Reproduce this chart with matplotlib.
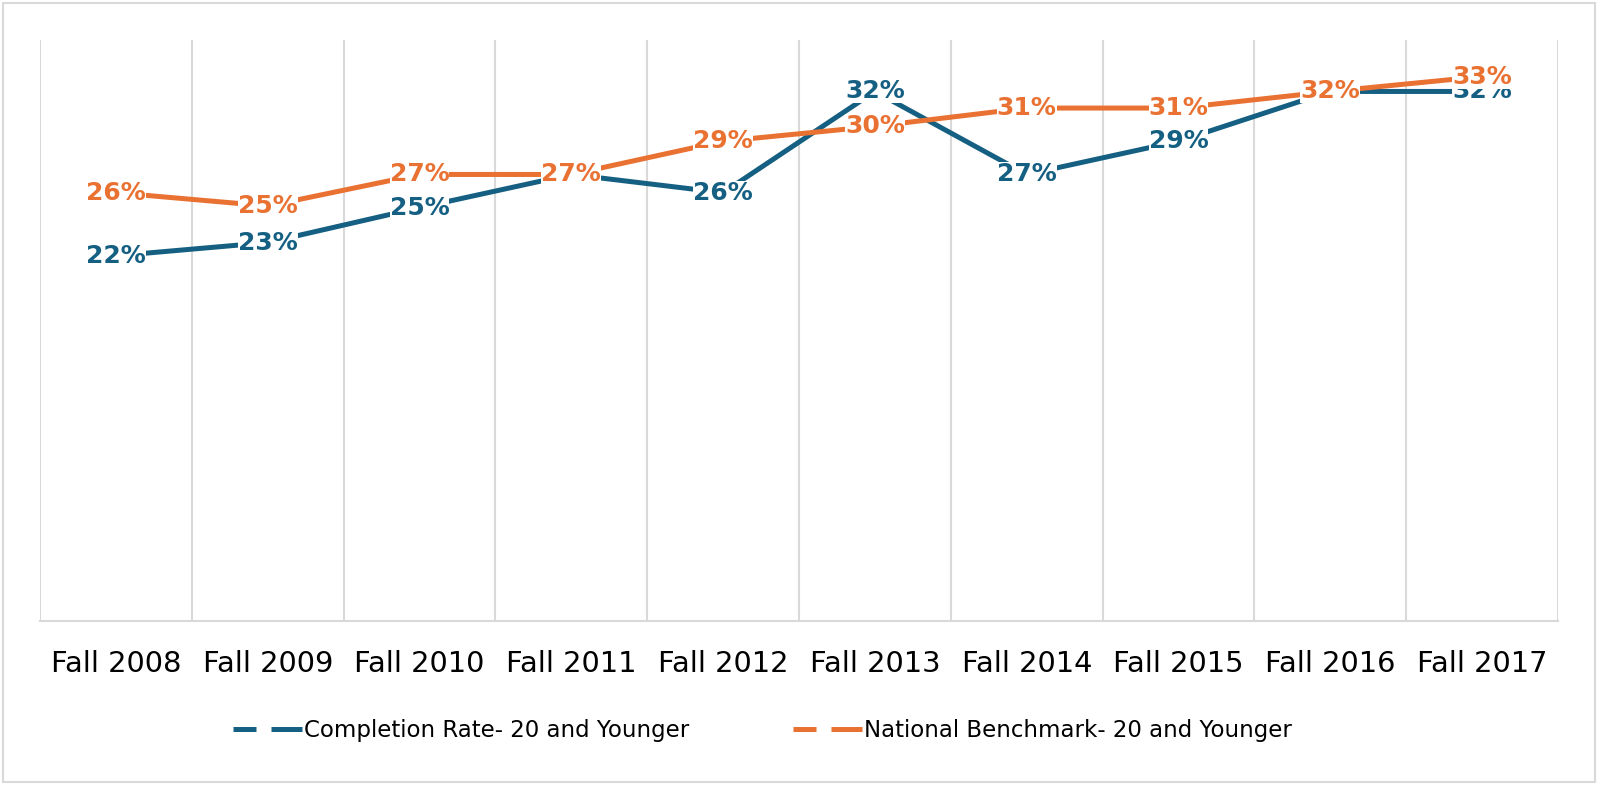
import matplotlib.pyplot as plt
from matplotlib.lines import Line2D
from matplotlib.patches import Rectangle

plt.rcParams['font.family'] = ['DejaVu Sans']

# data
terms = ['Fall 2008', 'Fall 2009', 'Fall 2010', 'Fall 2011', 'Fall 2012',
         'Fall 2013', 'Fall 2014', 'Fall 2015', 'Fall 2016', 'Fall 2017']
completion = [0.220, 0.228, 0.249, 0.269, 0.258, 0.319, 0.269, 0.289, 0.319, 0.319]
benchmark = [0.258, 0.250, 0.269, 0.269, 0.289, 0.298, 0.309, 0.309, 0.319, 0.328]
series_names = ['Completion Rate- 20 and Younger', 'National Benchmark- 20 and Younger']

blue = '#156082'
orange = '#E97132'
grid_c = '#D9D9D9'

W, H = 1600, 786
fig = plt.figure(figsize=(W / 100, H / 100), dpi=100)
# plot area in pixels: left 40, right 1558, top 40, bottom 621
ax = fig.add_axes([40 / W, 1 - 621 / H, (1558 - 40) / W, (621 - 40) / H])

x = list(range(len(terms)))
ax.plot(x, completion, color=blue, lw=3.6, solid_capstyle='butt', zorder=2)
ax.plot(x, benchmark, color=orange, lw=3.6, solid_capstyle='butt', zorder=2)

# data labels centred on the points, white box hides the line
box = dict(boxstyle='square,pad=0.0', fc='white', ec='none')
for xi, c, b in zip(x, completion, benchmark):
    ax.text(xi, c, f'{c*100:.0f}%', color=blue, fontsize=18, fontweight='bold',
            ha='center', va='center', zorder=3, bbox=box)
    ax.text(xi, b, f'{b*100:.0f}%', color=orange, fontsize=18, fontweight='bold',
            ha='center', va='center', zorder=4, bbox=box)

ax.set_xlim(-0.5, len(terms) - 0.5)
ax.set_ylim(0, 0.35)
ax.set_yticks([])
ax.set_xticks(x)
ax.set_xticklabels(terms, fontsize=20.8)
ax.tick_params(axis='x', length=0, pad=21)

# vertical gridlines at category boundaries
for bnd in range(len(terms) + 1):
    ax.axvline(bnd - 0.5, color=grid_c, lw=1.5, zorder=1)
for s in ['top', 'right', 'left']:
    ax.spines[s].set_visible(False)
ax.spines['bottom'].set_color(grid_c)
ax.spines['bottom'].set_linewidth(1.5)

# legend: one entry each, placed where the reference has them
leg_x = [233, 793]
for name, col, lx in zip(series_names, [blue, orange], leg_x):
    h = Line2D([], [], color=col, lw=3.6, dashes=(4.6, 3, 10, 3))
    fig.legend([h], [name], loc='center left', bbox_to_anchor=(lx / W, 1 - 731 / H),
               frameon=False, fontsize=16.5, handlelength=3.0, handletextpad=0.1,
               borderpad=0, borderaxespad=0)

# outer chart border
fig.patches.append(Rectangle((3 / W, 1 - 782 / H), 1592 / W, 779 / H,
                             transform=fig.transFigure, fill=False, ec=grid_c, lw=1.5))

fig.savefig('out.png', dpi=100)
